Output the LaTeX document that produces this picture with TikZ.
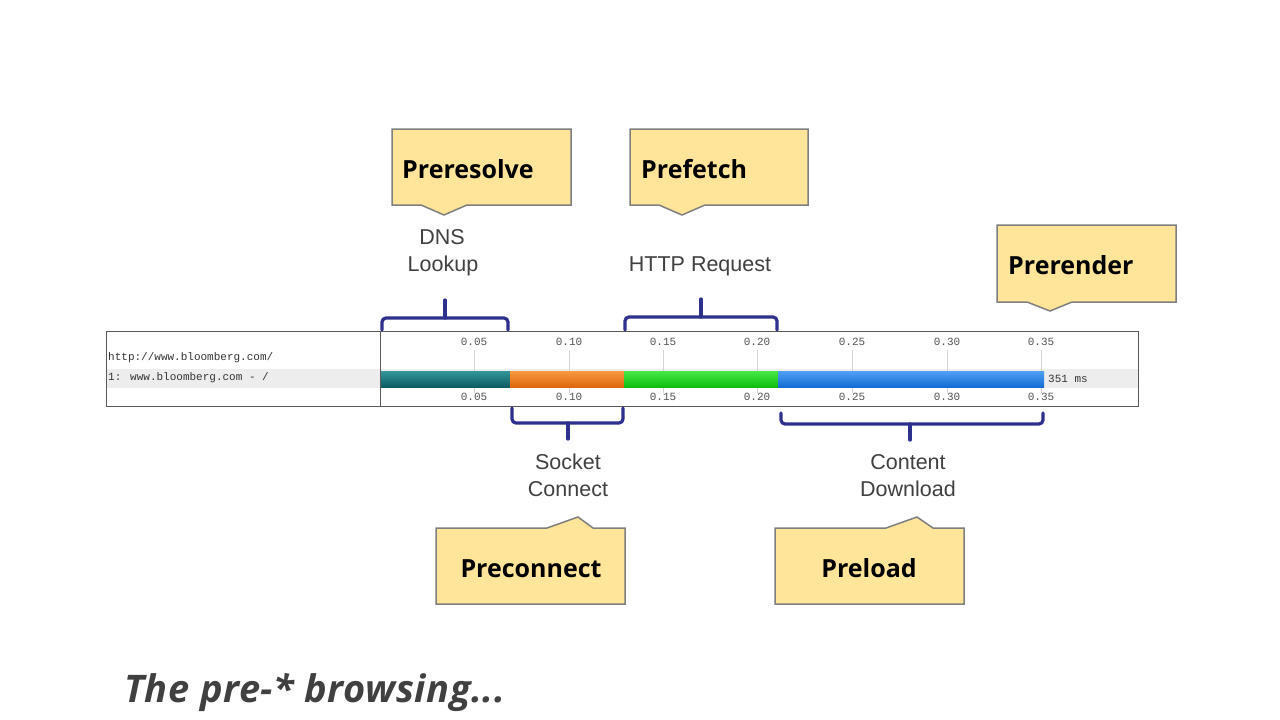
\documentclass[tikz,border=0pt]{standalone}
\usepackage{fontspec}
\setmainfont{Liberation Sans}
\newfontfamily\calloutfont{Open Sans}
\newfontfamily\chartmono{Liberation Mono}
\newfontfamily\captionfont[LetterSpace=1.5]{Open Sans}
\definecolor{calloutfill}{RGB}{255,229,153}
\definecolor{calloutedge}{RGB}{127,127,127}
\definecolor{bracecol}{RGB}{46,48,142}
\definecolor{labelcol}{RGB}{64,64,64}
\definecolor{rowgray}{RGB}{237,237,237}
\definecolor{gridgray}{RGB}{212,212,212}
\definecolor{chartedge}{RGB}{90,90,90}
\definecolor{captioncol}{RGB}{64,64,64}
\tikzset{
  callout/.style={draw=calloutedge, fill=calloutfill, line width=1.5pt, line join=miter},
  callouttext/.style={font=\calloutfont\bfseries\fontsize{25}{28}\selectfont, text=black, inner sep=0pt},
  bracepath/.style={draw=bracecol, line width=3.2pt, rounded corners=4pt, line cap=round},
  bracelabel/.style={font=\fontsize{21.5}{26}\selectfont, text=labelcol, inner sep=0pt, anchor=base},
  ticklabel/.style={font=\chartmono\fontsize{11}{12}\selectfont, text=labelcol!90, inner sep=0pt},
  urltext/.style={font=\chartmono\fontsize{11}{12}\selectfont, text=black!80, inner sep=0pt, anchor=west},
  gridline/.style={draw=gridgray, line width=1pt},
}
\begin{document}
\begin{tikzpicture}[x=1pt,y=-1pt]
\useasboundingbox (0,0) rectangle (1280,720);
\fill[white] (0,0) rectangle (1280,720);

% ---- chart ----
\fill[rowgray] (106,369) rectangle (1138,388);
\foreach \gx in {474,569,663,757,852,947,1041} {
  \draw[gridline] (\gx,350) -- (\gx,393);
}
\shade[top color={rgb,255:red,52;green,150;blue,155}, bottom color={rgb,255:red,12;green,92;blue,98}] (380,371) rectangle (510,387);
\shade[top color={rgb,255:red,248;green,152;blue,62}, bottom color={rgb,255:red,222;green,104;blue,14}] (510,371) rectangle (624,387);
\shade[top color={rgb,255:red,70;green,232;blue,70}, bottom color={rgb,255:red,16;green,190;blue,16}] (624,371) rectangle (778,387);
\shade[top color={rgb,255:red,80;green,160;blue,245}, bottom color={rgb,255:red,22;green,108;blue,210}] (778,371) rectangle (1044,387);
\draw[chartedge, line width=1pt] (106,331) rectangle (1138,406);
\draw[chartedge, line width=1pt] (380,331) -- (380,406);

\node[urltext] (url) at (108,358) {http://www.bloomberg.com/};
\node[urltext] (row) at (108,378) {1: www.bloomberg.com - /};
\node[urltext] (ms) at (1048,379) {351 ms};

\node[ticklabel] (ta1) at (474,342) {0.05};
\node[ticklabel] (ta2) at (569,342) {0.10};
\node[ticklabel] (ta3) at (663,342) {0.15};
\node[ticklabel] (ta4) at (757,342) {0.20};
\node[ticklabel] (ta5) at (852,342) {0.25};
\node[ticklabel] (ta6) at (947,342) {0.30};
\node[ticklabel] (ta7) at (1041,342) {0.35};
\node[ticklabel] (tb1) at (474,397) {0.05};
\node[ticklabel] (tb2) at (569,397) {0.10};
\node[ticklabel] (tb3) at (663,397) {0.15};
\node[ticklabel] (tb4) at (757,397) {0.20};
\node[ticklabel] (tb5) at (852,397) {0.25};
\node[ticklabel] (tb6) at (947,397) {0.30};
\node[ticklabel] (tb7) at (1041,397) {0.35};

% ---- braces ----
\draw[bracepath] (382,330) -- (382,318) -- (508,318) -- (508,330);
\draw[bracepath] (445,318) -- (445,300);
\draw[bracepath] (625,330) -- (625,317) -- (777,317) -- (777,330);
\draw[bracepath] (701,317) -- (701,299);
\draw[bracepath] (512,408) -- (512,423) -- (623,423) -- (623,408);
\draw[bracepath] (568,423) -- (568,439);
\draw[bracepath] (781,413) -- (781,424) -- (1043,424) -- (1043,413);
\draw[bracepath] (910,424) -- (910,440);

\node[bracelabel] (dns) at (442,244) {DNS};
\node[bracelabel] (lookup) at (443,271) {Lookup};
\node[bracelabel] (http) at (700,271) {HTTP Request};
\node[bracelabel] (socket) at (568,469) {Socket};
\node[bracelabel] (connect) at (568,496) {Connect};
\node[bracelabel] (content) at (908,469) {Content};
\node[bracelabel] (download) at (908,496) {Download};

% ---- callouts ----
\draw[callout] (392,129) -- (571,129) -- (571,205) -- (467,205) -- (444,215) -- (421,205) -- (392,205) -- cycle;
\node[callouttext, anchor=base west] (preresolve) at (402,178) {Preresolve};

\draw[callout] (630,129) -- (808,129) -- (808,205) -- (705,205) -- (682,215) -- (659,205) -- (630,205) -- cycle;
\node[callouttext, anchor=base west] (prefetch) at (641,178) {Prefetch};

\draw[callout] (997,225) -- (1176,225) -- (1176,302) -- (1072,302) -- (1050,311) -- (1027,302) -- (997,302) -- cycle;
\node[callouttext, anchor=base west] (prerender) at (1008,274) {Prerender};

\draw[callout] (436,528) -- (547,528) -- (578,517) -- (593,528) -- (625,528) -- (625,604) -- (436,604) -- cycle;
\node[callouttext, anchor=base] (preconnect) at (531,577) {Preconnect};

\draw[callout] (775,528) -- (886,528) -- (917,517) -- (933,528) -- (964,528) -- (964,604) -- (775,604) -- cycle;
\node[callouttext, anchor=base] (preload) at (869,577) {Preload};

% ---- caption ----
\node[font=\captionfont\bfseries\itshape\fontsize{38}{40}\selectfont, text=captioncol, inner sep=0pt, anchor=base west] (caption) at (124,702) {The pre-* browsing...};
\end{tikzpicture}
\end{document}
